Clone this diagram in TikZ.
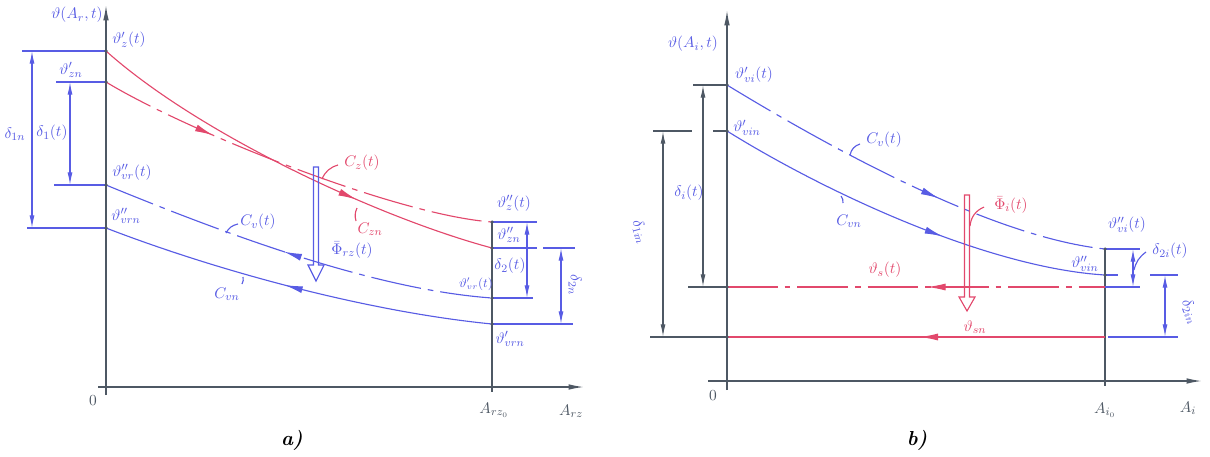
\documentclass[tikz,border=0pt]{standalone}
\usetikzlibrary{arrows.meta,decorations.markings}
\definecolor{inkblue}{RGB}{88,92,228}
\definecolor{inkred}{RGB}{226,72,108}
\definecolor{inkgray}{RGB}{78,88,100}
\tikzset{
  axis/.style={inkgray, line width=1pt, -{Latex[length=11pt,width=4pt]}},
  tick/.style={inkgray, line width=0.9pt},
  bl/.style={inkblue, line width=0.8pt},
  rd/.style={inkred, line width=0.8pt},
  chainline/.style={dash pattern=on 36pt off 5pt on 4pt off 5pt},
  dim/.style={{Latex[length=9pt,width=3.5pt]}-{Latex[length=9pt,width=3.5pt]}},
  fwd/.style={postaction={decorate, decoration={markings,
      mark=at position #1 with {\arrow{Latex[length=13pt,width=5pt]}}}}},
  bwd/.style={postaction={decorate, decoration={markings,
      mark=at position #1 with {\arrowreversed{Latex[length=13pt,width=5pt]}}}}},
  dot/.style={circle, fill=inkgray, inner sep=0pt, minimum size=2.5pt},
  lb/.style={inkblue, inner sep=1pt, font=\fontsize{11}{13}\selectfont},
  lr/.style={inkred, inner sep=1pt, font=\fontsize{11}{13}\selectfont},
  lg/.style={inkgray, inner sep=1pt, font=\fontsize{11}{13}\selectfont},
}
\begin{document}
\begin{tikzpicture}[x=0.025cm, y=-0.025cm]
  \useasboundingbox (0,0) rectangle (1210,456);

  % ---------- a) ----------
  \coordinate (zt)  at (106,51);
  \coordinate (zn)  at (106,82);
  \coordinate (vrt) at (106,185);
  \coordinate (vrn) at (106,228);
  \coordinate (zt2)  at (492,222);
  \coordinate (zn2)  at (492,248);
  \coordinate (vrt2) at (492,298);
  \coordinate (vrn2) at (492,324);

  \draw[axis] (106,395) -- (106,5);
  \draw[axis] (98,387) -- (584,387);
  \draw[tick] (492,222) -- (492,392);

  \draw[bl] (22,51) -- (zt);
  \draw[bl] (56,82) -- (zn);
  \draw[bl] (54,185) -- (vrt);
  \draw[bl] (27,228) -- (vrn);
  \draw[bl] (zt2) -- (537,222);
  \draw[bl] (zn2) -- (537,248);
  \draw[bl] (543,248) -- (575,248);
  \draw[bl] (vrt2) -- (533,298);
  \draw[bl] (vrn2) -- (573,324);

  \draw[bl,dim] (32,51) -- (32,228);
  \draw[bl,dim] (70,82) -- (70,185);
  \draw[bl,dim] (527,222) -- (527,298);
  \draw[bl,dim] (561,248) -- (561,324);

  \draw[rd, fwd=0.67] (zt) .. controls (200,135) and (380,218) .. (zn2);
  \draw[rd, chainline, fwd=0.29] (zn) .. controls (185,130) and (395,215) .. (zt2);
  \draw[bl, chainline, bwd=0.47] (vrt) .. controls (240,240) and (380,290) .. (vrt2);
  \draw[bl, bwd=0.47] (vrn) .. controls (220,272) and (370,312) .. (vrn2);

  % flow arrow
  \draw[bl] (313.5,167) -- (313.5,265) -- (308,265) -- (316,281) -- (324,265)
    -- (318.5,265) -- (318.5,167) -- cycle;

  % leaders
  \draw[rd] (322,179) to[bend left=25] (338,165);
  \draw[rd] (357,208) to[bend right=20] (356,221);
  \draw[bl] (226,233) to[bend left=25] (238,224);
  \draw[bl] (243,277) to[bend left=20] (242,284);

  \foreach \p in {zt,zn,vrt,vrn,zt2,zn2,vrt2,vrn2} \node[dot] at (\p) {};

  \node[lb] (ya) at (77,15) {$\vartheta(A_r,t)$};
  \node[lb] (lzt) at (129,40) {$\vartheta'_z(t)$};
  \node[lb] (lzn) at (71,70) {$\vartheta'_{zn}$};
  \node[lb] (lvrt) at (132,172) {$\vartheta''_{vr}(t)$};
  \node[lb] (lvrn) at (126,216) {$\vartheta''_{vrn}$};
  \node[lb] (d1n) at (15,134) {$\delta_{1n}$};
  \node[lb] (d1t) at (52,133) {$\delta_1(t)$};
  \node[lr] (lcz) at (362,163) {$C_z(t)$};
  \node[lr] (lczn) at (370,229) {$C_{zn}$};
  \node[lb] (lphi) at (352,250) {$\bar\Phi_{rz}(t)$};
  \node[lb] (lcv) at (258,222) {$C_v(t)$};
  \node[lb] (lcvn) at (227,294) {$C_{vn}$};
  \node[lb] (lzt2) at (514,203) {$\vartheta''_z(t)$};
  \node[lb] (lzn2) at (509,235) {$\vartheta''_{zn}$};
  \node[lb, font=\small] (lvrt2) at (476,284) {$\vartheta'_{vr}(t)$};
  \node[lb] (lvrn2) at (510,339) {$\vartheta'_{vrn}$};
  \node[lb] (d2t) at (510,266) {$\delta_2(t)$};
  \node[lb, rotate=-90] (d2n) at (575,285) {$\delta_{2n}$};
  \node[lg] (oa) at (93,401) {$0$};
  \node[lg] (ar0) at (494,410) {$A_{rz_0}$};
  \node[lg] (ar) at (571,411) {$A_{rz}$};
  \node (ta) at (292,440) {\Large\bfseries\itshape a)};

  % ---------- b) ----------
  \coordinate (vit)  at (727,85);
  \coordinate (vin)  at (727,131);
  \coordinate (st)   at (727,287);
  \coordinate (sn)   at (727,337);
  \coordinate (vit2) at (1105,249);
  \coordinate (vin2) at (1105,275);
  \coordinate (st2)  at (1105,287);
  \coordinate (sn2)  at (1105,337);

  \draw[axis] (727,390) -- (727,10);
  \draw[axis] (708,381) -- (1202,381);
  \draw[tick] (1105,248) -- (1105,386);

  \draw[tick] (693,85) -- (vit);
  \draw[tick] (653,131) -- (692,131);
  \draw[tick] (713,131) -- (vin);
  \draw[tick] (688,287) -- (st);
  \draw[tick] (650,337) -- (sn);
  \draw[tick,dim] (703,85) -- (703,287);
  \draw[tick,dim] (663,131) -- (663,337);

  \draw[bl] (vit2) -- (1140,249);
  \draw[bl] (vin2) -- (1118,275);
  \draw[bl] (1150,275) -- (1178,275);
  \draw[bl] (st2) -- (1140,287);
  \draw[bl] (1108,337) -- (1178,337);
  \draw[bl,dim] (1133,249) -- (1133,287);
  \draw[bl,dim] (1165,275) -- (1165,337);

  \draw[bl, chainline, fwd=0.58] (vit) .. controls (850,160) and (1000,238) .. (vit2);
  \draw[bl, fwd=0.59] (vin) .. controls (830,195) and (990,268) .. (vin2);
  \draw[rd, chainline, bwd=0.53] (st) -- (st2);
  \draw[rd, bwd=0.51] (sn) -- (sn2);

  % flow arrow
  \draw[rd] (964.5,195) -- (964.5,297) -- (959,297) -- (967,311) -- (975,297)
    -- (969.5,297) -- (969.5,195) -- cycle;

  % leaders
  \draw[rd] (970,226) to[bend left=30] (984,207);
  \draw[bl] (850,155) to[bend left=30] (860,144);
  \draw[bl] (841,196) to[bend left=20] (843,203);
  \draw[bl] (1134,270) to[bend left=20] (1146,252);

  \foreach \p in {vit,vin,st,sn,vit2,vin2} \node[dot] at (\p) {};

  \node[lb] (yb) at (693,44) {$\vartheta(A_i,t)$};
  \node[lb] (lvit) at (754,75) {$\vartheta'_{vi}(t)$};
  \node[lb] (lvin) at (747,128) {$\vartheta'_{vin}$};
  \node[lb] (lcvb) at (884,140) {$C_v(t)$};
  \node[lb] (lcvnb) at (849,221) {$C_{vn}$};
  \node[lb] (dit) at (689,193) {$\delta_i(t)$};
  \node[lb, rotate=-75] (d1in) at (640,232) {$\delta_{1in}$};
  \node[lr] (lphib) at (1011,205) {$\bar\Phi_i(t)$};
  \node[lr] (lst) at (885,270) {$\vartheta_s(t)$};
  \node[lr] (lsn) at (975,327) {$\vartheta_{sn}$};
  \node[lb] (lvit2) at (1127,225) {$\vartheta''_{vi}(t)$};
  \node[lb] (lvin2) at (1085,264) {$\vartheta''_{vin}$};
  \node[lb] (d2it) at (1170,251) {$\delta_{2i}(t)$};
  \node[lb, rotate=-70] (d2in) at (1190,312) {$\delta_{2in}$};
  \node[lg] (ob) at (713,396) {$0$};
  \node[lg] (ai0) at (1105,410) {$A_{i_0}$};
  \node[lg] (ai) at (1188,408) {$A_i$};
  \node (tb) at (917,440) {\Large\bfseries\itshape b)};
\end{tikzpicture}
\end{document}
